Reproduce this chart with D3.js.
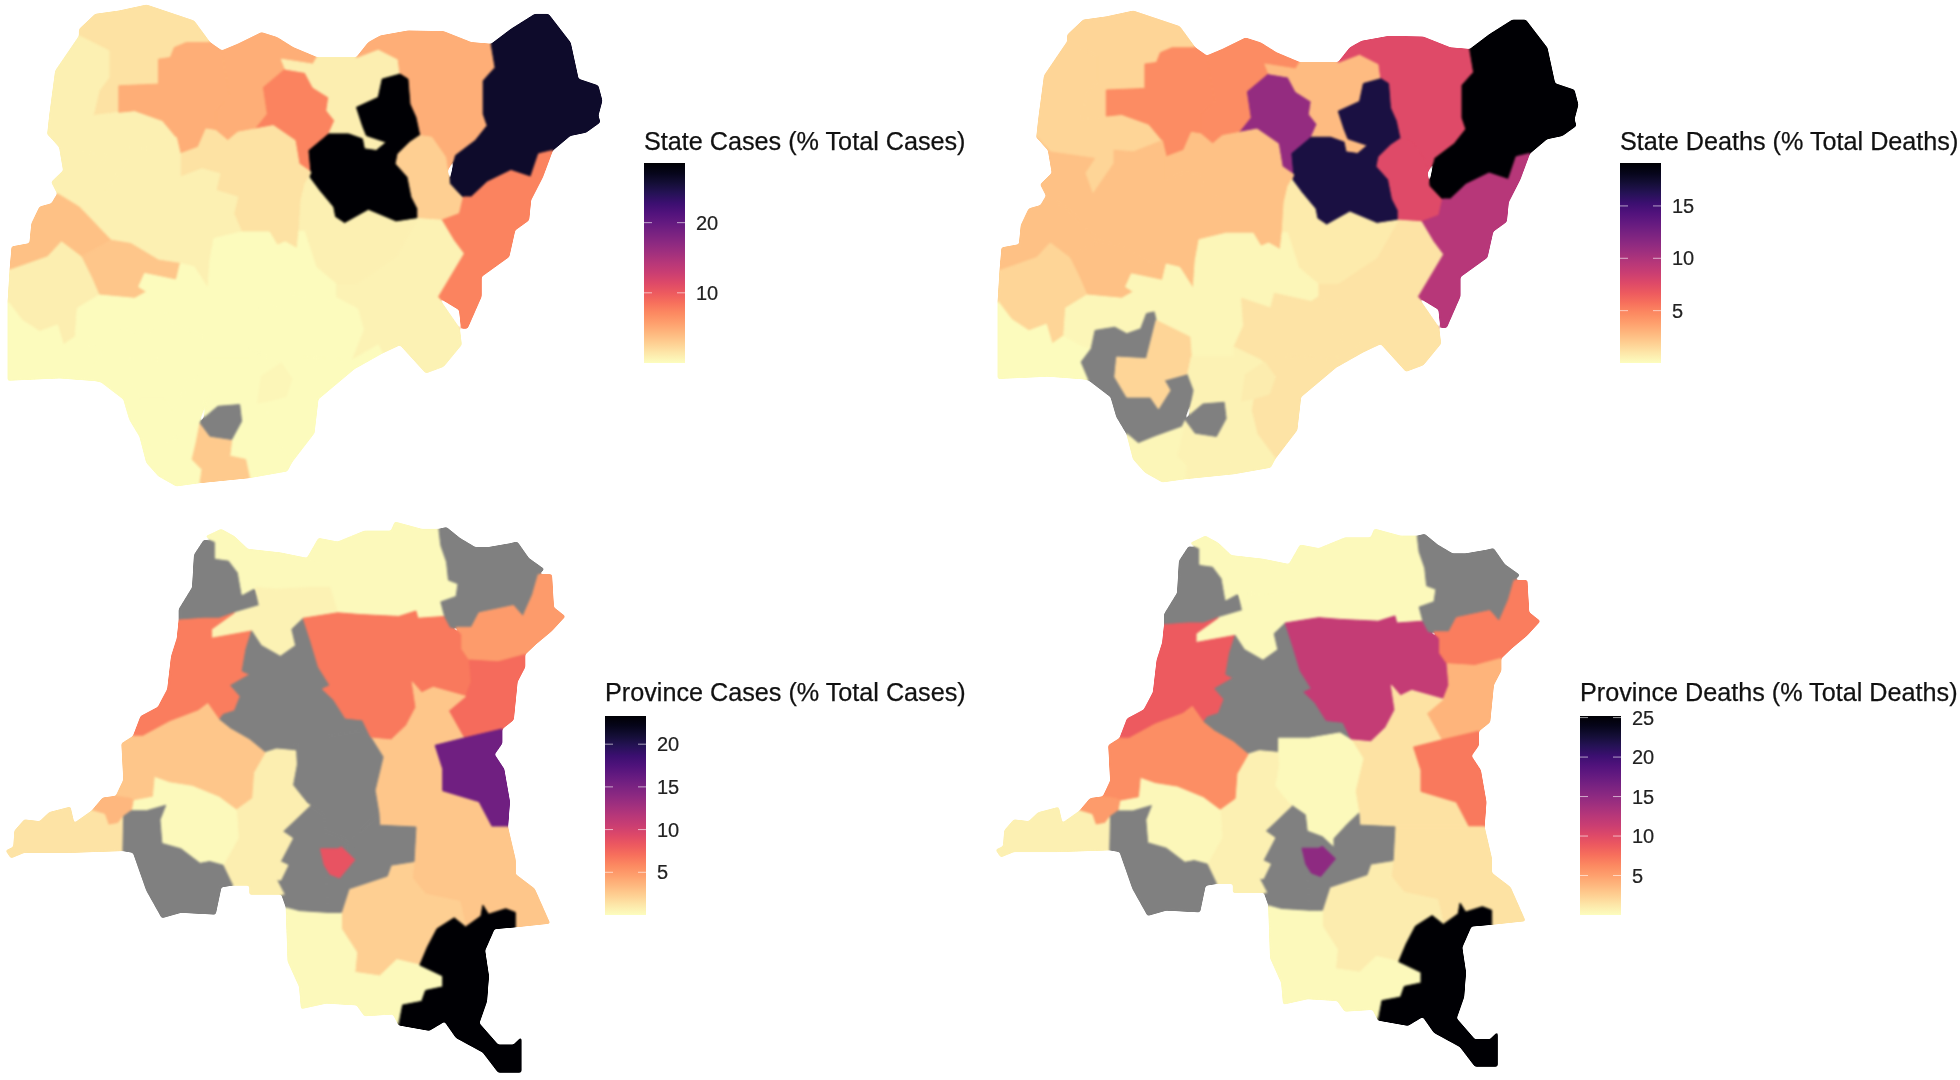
<!DOCTYPE html>
<html><head><meta charset="utf-8">
<script src="https://cdn.jsdelivr.net/npm/d3@7"></script>
<style>html,body{margin:0;background:#fff}svg{display:block;filter:blur(.5px)}</style>
</head><body><svg id="c" width="1960" height="1080"></svg>
<script>
// values (% of national total); null = no data (grey)
const stateNames=["Sokoto","Kebbi","Zamfara","Katsina","Kano","Jigawa","Yobe","Borno","Bauchi","Gombe","Adamawa","Kaduna","Niger","Kwara","Oyo","Ekiti","Ogun","Kogi","Ondo","Edo","Benue","Taraba","Plateau","CrossRiver","Enugu","Ebonyi","Rivers","Imo","Anambra"];
const stateCases=[1.7,0.85,4.8,4.8,7.4,1.0,4.8,26.2,28.5,2.8,7.4,1.7,0.8,3.7,3.4,1.0,0.2,0.2,0.2,0.2,0.2,0.7,0.8,0.2,0.2,0.5,0.2,3.2,null];
const stateDeaths=[1.7,1.7,4.6,4.6,11.1,2.7,7.6,19.1,16.8,7.6,9.5,2.5,2.5,2.5,2.5,1.7,0.1,0.3,null,1.7,1.1,1.1,0.8,1.1,0.5,0.7,0.3,0.5,null];
const provNames=["Sud-Ubangi","Nord-Ubangi","Bas-Uele","Mongala","Equateur","Tshuapa","Tshopo","Haut-Uele","Ituri","Nord-Kivu","Maniema","Sud-Kivu","Tanganyika","Haut-Lomami","Lualaba","Haut-Katanga","Sankuru","Lomami","Kasai-Central","Kasai-Oriental","Kasai","Kwilu","Mai-Ndombe","Kinshasa","Kongo-Central","Kwango"];
const provCases=[null,0.2,0.2,0.6,6.3,null,6.5,null,4.9,7.2,2.8,15.6,2.8,2.3,0.2,23.3,null,null,null,8.6,0.8,0.2,2.8,3.5,1.3,null];
const provDeaths=[null,0.2,0.2,0.2,8.8,null,11.8,null,6.8,4.0,1.5,7.0,1.5,0.9,0.2,25.2,0.2,null,null,15.0,0.75,0.3,6.0,5.3,0.75,null];

// region outlines in map units
const stateShapes=[
[[200,85],[240,40],[300,30],[370,12],[440,40],[490,60],[530,125],[470,125],[440,140],[430,170],[400,175],[400,250],[300,255],[300,335],[235,345],[250,270],[275,230],[275,150],[200,105]],
[[200,105],[275,150],[275,230],[250,270],[235,345],[300,335],[340,330],[410,360],[445,410],[370,445],[320,440],[320,480],[265,575],[245,510],[270,465],[155,445],[120,400],[125,345],[140,210]],
[[545,330],[545,390],[520,385],[500,440],[455,460],[445,410],[410,360],[340,330],[300,335],[300,255],[400,250],[400,175],[430,170],[440,140],[470,125],[530,125],[560,150],[580,290]],
[[560,150],[600,130],[660,95],[700,110],[740,140],[800,170],[790,190],[710,175],[720,205],[665,260],[675,340],[645,385],[600,395],[575,420],[545,390],[545,330],[580,290]],
[[720,205],[770,215],[790,260],[830,290],[825,330],[845,360],[830,400],[780,450],[785,515],[755,490],[745,420],[690,375],[645,385],[675,340],[665,260]],
[[710,175],[790,190],[800,170],[900,170],[955,145],[1005,175],[1010,220],[965,235],[955,290],[900,320],[915,375],[925,405],[975,425],[950,450],[920,445],[915,415],[880,400],[830,400],[845,360],[825,330],[830,290],[790,260],[770,215],[720,205]],
[[900,170],[930,125],[960,105],[1030,90],[1120,92],[1190,125],[1240,130],[1250,200],[1220,240],[1220,340],[1230,375],[1200,420],[1150,465],[1130,510],[1125,470],[1090,410],[1060,405],[1050,350],[1035,310],[1030,235],[1010,220],[1005,175],[955,145]],
[[1240,130],[1290,85],[1350,40],[1385,40],[1440,125],[1460,235],[1510,255],[1520,300],[1510,345],[1515,365],[1480,395],[1440,405],[1395,450],[1360,460],[1340,530],[1290,510],[1230,545],[1190,590],[1170,590],[1135,550],[1150,465],[1200,420],[1230,375],[1220,340],[1220,240],[1250,200]],
[[1010,220],[1030,235],[1035,310],[1050,350],[1060,405],[1035,425],[1005,460],[1000,490],[1030,530],[1040,590],[1055,625],[1055,655],[1000,665],[930,630],[870,670],[845,650],[840,620],[805,570],[780,530],[785,515],[780,450],[830,400],[880,400],[915,415],[920,445],[950,450],[975,425],[925,405],[915,375],[900,320],[955,290],[965,235]],
[[1060,405],[1090,410],[1125,470],[1130,510],[1135,550],[1170,595],[1160,640],[1115,660],[1055,655],[1055,625],[1040,590],[1030,530],[1000,490],[1005,460],[1035,425]],
[[1360,460],[1395,450],[1370,530],[1340,600],[1335,660],[1300,690],[1285,770],[1215,830],[1215,890],[1180,985],[1165,985],[1160,930],[1105,890],[1170,760],[1145,720],[1115,660],[1160,640],[1170,590],[1190,590],[1230,545],[1290,510],[1340,530]],
[[455,460],[500,440],[520,385],[545,390],[575,420],[600,395],[645,385],[690,375],[745,420],[755,490],[785,515],[780,530],[770,550],[760,600],[755,690],[750,745],[720,725],[700,735],[680,695],[610,695],[590,640],[600,590],[545,570],[555,520],[510,505],[455,530]],
[[120,400],[155,445],[270,465],[245,510],[265,575],[320,480],[320,440],[370,445],[445,410],[455,460],[455,530],[510,505],[555,520],[545,570],[600,590],[590,640],[610,695],[540,715],[530,780],[525,865],[490,800],[455,790],[400,780],[330,730],[280,720],[200,620],[145,580],[130,545],[160,510],[150,440]],
[[145,580],[200,620],[280,720],[205,770],[180,745],[155,725],[120,770],[25,810],[30,740],[75,730],[80,670],[100,620],[130,610]],
[[205,770],[280,720],[330,730],[400,780],[455,790],[445,840],[365,820],[350,860],[370,875],[340,895],[250,885],[230,830]],
[[25,810],[120,770],[155,725],[205,770],[230,830],[250,885],[195,925],[190,1010],[160,1035],[145,975],[100,995],[55,960],[20,905]],
[[20,905],[55,960],[100,995],[145,975],[160,1035],[190,1010],[235,1040],[261,1050],[235,1091],[255,1147],[240,1143],[150,1135],[20,1142]],
[[195,925],[250,885],[340,895],[370,875],[350,860],[365,820],[445,840],[455,790],[490,800],[525,865],[530,780],[540,715],[610,695],[680,695],[700,735],[720,725],[750,745],[755,690],[770,690],[800,800],[850,850],[850,890],[830,905],[735,880],[725,925],[650,895],[655,980],[630,1045],[630,1075],[520,1075],[516,1014],[429,963],[424,938],[404,942],[389,989],[353,1004],[322,984],[271,994],[261,1050],[235,1040],[190,1010]],
[[424,937],[429,963],[404,1081],[327,1076],[322,1137],[353,1199],[414,1199],[435,1235],[465,1178],[450,1147],[511,1127],[527,1178],[496,1291],[424,1322],[383,1342],[353,1312],[327,1260],[312,1199],[255,1147],[235,1091],[261,1050],[271,994],[322,984],[353,1004],[389,989],[404,942]],
[[327,1076],[404,1081],[429,963],[516,1014],[520,1075],[511,1127],[450,1147],[465,1178],[435,1235],[414,1199],[353,1199],[322,1137]],
[[650,895],[725,925],[735,880],[830,905],[850,890],[905,925],[920,990],[890,1080],[770,1070],[700,1085],[630,1045],[655,980]],
[[1000,770],[1055,655],[1115,660],[1145,720],[1170,760],[1105,890],[1160,985],[1165,1035],[1120,1100],[1075,1120],[1010,1035],[965,1060],[955,1035],[890,1080],[920,990],[905,925],[850,890],[850,850],[900,850]],
[[770,550],[780,530],[805,570],[840,620],[845,650],[870,670],[930,630],[1000,665],[1055,655],[1000,770],[900,850],[850,850],[800,800],[770,690],[755,690],[760,600]],
[[742,1071],[890,1080],[955,1035],[965,1060],[895,1107],[803,1199],[793,1301],[737,1388],[690,1312],[675,1240],[680,1204],[737,1137],[700,1085]],
[[520,1075],[630,1075],[630,1045],[700,1085],[737,1137],[680,1204],[675,1240],[690,1312],[737,1388],[725,1415],[630,1435],[620,1380],[580,1370],[585,1320],[610,1265],[605,1215],[550,1220],[515,1255],[527,1178],[511,1127]],
[[660,1130],[710,1090],[737,1137],[722,1190],[680,1204],[650,1210]],
[[353,1312],[383,1342],[424,1322],[496,1291],[505,1270],[495,1330],[485,1380],[510,1410],[505,1450],[445,1460],[400,1430],[370,1390]],
[[505,1270],[530,1310],[585,1320],[580,1370],[620,1380],[630,1435],[505,1450],[510,1410],[485,1380],[495,1330]],
[[515,1255],[550,1220],[605,1215],[610,1265],[585,1320],[530,1310],[505,1270]]
];
const provShapes=[
[[530,80],[560,85],[560,130],[595,135],[620,170],[630,230],[660,215],[675,260],[610,280],[570,295],[530,295],[465,300],[465,270],[500,210],[505,120]],
[[535,70],[575,50],[610,70],[645,105],[730,115],[800,130],[880,150],[860,210],[810,210],[720,215],[665,210],[630,230],[620,170],[595,135],[560,130],[560,85]],
[[800,130],[830,75],[880,85],[950,55],[1020,55],[1030,30],[1100,50],[1145,50],[1150,95],[1165,140],[1170,190],[1195,200],[1190,235],[1150,250],[1160,290],[1090,295],[1085,275],[1040,290],[940,285],[880,280],[860,210],[880,150]],
[[665,210],[720,215],[810,210],[860,210],[880,280],[790,295],[760,325],[770,370],[730,400],[680,370],[655,330],[550,350],[550,325],[610,280],[675,260]],
[[465,300],[530,295],[570,295],[610,280],[550,325],[550,350],[655,330],[640,380],[630,440],[650,450],[600,480],[625,510],[610,550],[580,560],[570,575],[540,530],[515,550],[440,580],[370,620],[345,620],[365,565],[410,540],[435,490],[445,400],[460,350]],
[[760,325],[790,295],[810,360],[830,430],[860,480],[840,490],[870,520],[900,570],[945,575],[968,625],[937,605],[854,620],[772,620],[770,660],[720,655],[690,665],[650,630],[600,600],[570,575],[580,560],[610,550],[625,510],[600,480],[650,450],[630,440],[640,380],[655,330],[680,370],[730,400],[770,370]],
[[790,295],[880,280],[940,285],[1040,290],[1085,275],[1090,295],[1160,290],[1175,320],[1205,340],[1205,380],[1225,410],[1230,470],[1215,510],[1130,485],[1100,500],[1075,470],[1085,540],[1060,590],[1020,630],[968,625],[945,575],[900,570],[870,520],[840,490],[860,480],[830,430],[810,360]],
[[1145,50],[1165,45],[1200,75],[1240,100],[1275,100],[1330,90],[1350,85],[1380,130],[1420,160],[1405,175],[1390,230],[1365,290],[1340,260],[1250,280],[1230,320],[1190,320],[1175,320],[1160,290],[1150,250],[1190,235],[1195,200],[1170,190],[1165,140],[1150,95]],
[[1405,175],[1440,175],[1445,265],[1475,290],[1440,330],[1400,365],[1370,395],[1300,415],[1225,410],[1205,380],[1205,340],[1190,320],[1230,320],[1250,280],[1340,260],[1365,290],[1390,230]],
[[1225,410],[1300,415],[1370,395],[1370,430],[1350,470],[1340,575],[1310,600],[1210,625],[1170,550],[1215,510],[1230,470]],
[[1075,470],[1100,500],[1130,485],[1215,510],[1170,550],[1210,625],[1135,645],[1155,710],[1155,770],[1250,800],[1285,870],[1085,870],[990,865],[988,831],[978,769],[999,677],[968,625],[1020,630],[1060,590],[1085,540]],
[[1135,645],[1210,625],[1310,600],[1310,640],[1290,670],[1315,710],[1330,800],[1325,870],[1285,870],[1250,800],[1155,770],[1155,710]],
[[1085,870],[1285,870],[1325,870],[1345,960],[1345,1000],[1395,1040],[1435,1135],[1345,1145],[1345,1105],[1320,1095],[1275,1110],[1260,1085],[1255,1115],[1215,1145],[1200,1075],[1110,1055],[1075,1010],[1080,965]],
[[1075,1010],[1110,1055],[1200,1075],[1215,1145],[1185,1120],[1140,1150],[1115,1200],[1095,1250],[1035,1235],[990,1280],[925,1270],[930,1215],[890,1150],[890,1105],[910,1040],[1010,1005],[1020,975],[1080,965]],
[[745,1090],[780,1100],[890,1105],[890,1150],[930,1215],[925,1270],[990,1280],[1035,1235],[1095,1250],[1155,1280],[1155,1310],[1110,1320],[1100,1350],[1050,1360],[1040,1415],[1025,1385],[950,1390],[930,1360],[850,1355],[785,1370],[780,1310],[750,1240]],
[[1260,1085],[1275,1110],[1320,1095],[1345,1105],[1345,1145],[1290,1150],[1265,1210],[1275,1280],[1270,1350],[1250,1410],[1300,1470],[1340,1470],[1360,1450],[1360,1545],[1300,1545],[1260,1490],[1190,1450],[1160,1405],[1120,1430],[1040,1415],[1050,1360],[1100,1350],[1110,1320],[1155,1310],[1155,1280],[1095,1250],[1115,1200],[1140,1150],[1185,1120],[1215,1145],[1255,1115]],
[[772,620],[854,620],[937,605],[968,625],[999,677],[978,769],[988,831],[957,862],[921,903],[921,928],[890,898],[849,882],[844,836],[808,810],[762,754],[772,698]],
[[957,862],[988,831],[990,865],[1085,870],[1080,965],[1020,975],[1010,1005],[910,1040],[890,1105],[855,1105],[850,1000],[860,1000],[885,1010],[925,960],[890,925],[921,928],[921,903]],
[[808,810],[844,836],[849,882],[890,898],[921,928],[890,925],[880,930],[835,930],[845,975],[860,1000],[850,1000],[855,1105],[780,1100],[745,1090],[720,1015],[731,1016],[750,975],[730,965],[762,901],[736,882]],
[[835,930],[880,930],[890,925],[925,960],[885,1010],[860,1000],[845,975]],
[[690,665],[720,655],[770,660],[772,698],[762,754],[800,805],[808,810],[736,882],[762,901],[730,965],[750,975],[731,1016],[720,1015],[740,1055],[650,1055],[650,1030],[605,1030],[580,975],[620,900],[615,820],[655,790],[660,720]],
[[400,730],[440,745],[500,755],[570,785],[615,820],[620,900],[580,975],[545,965],[520,970],[470,930],[420,915],[415,850],[430,810],[380,825],[340,825],[345,795],[395,785]],
[[345,620],[370,620],[440,580],[515,550],[540,530],[570,575],[600,600],[650,630],[690,665],[660,720],[655,790],[615,820],[570,785],[500,755],[440,745],[400,730],[395,785],[345,795],[335,790],[300,785],[320,740],[315,640]],
[[265,790],[300,785],[335,790],[345,795],[340,825],[320,840],[305,860],[280,865],[270,835],[237,825]],
[[35,880],[60,850],[100,855],[125,830],[180,815],[190,860],[237,825],[270,835],[280,865],[305,860],[320,840],[318,935],[180,940],[60,940],[25,955],[12,935],[32,925]],
[[320,840],[340,825],[380,825],[430,810],[415,850],[420,915],[470,930],[520,970],[545,965],[580,975],[605,1030],[575,1035],[560,1110],[470,1105],[420,1120],[380,1045],[345,940],[318,935]]
];

const legends=[
 {title:"State Cases (% Total Cases)",vals:stateCases,shapes:stateShapes,max:28.5,ticks:[10,20],lx:644,ty:150,
  dx:[20,1520],dy:[12,1460],rx:[8,602],ry:[5,486]},
 {title:"State Deaths (% Total Deaths)",vals:stateDeaths,shapes:stateShapes,max:19.1,ticks:[5,10,15],lx:1620,ty:150,
  dx:[20,1520],dy:[12,1460],rx:[998,1578],ry:[11,482]},
 {title:"Province Cases (% Total Cases)",vals:provCases,shapes:provShapes,max:23.3,ticks:[5,10,15,20],lx:605,ty:701,
  dx:[12,1475],dy:[30,1550],rx:[6,565],ry:[522,1074]},
 {title:"Province Deaths (% Total Deaths)",vals:provDeaths,shapes:provShapes,max:25.2,ticks:[5,10,15,20,25],lx:1580,ty:701,
  dx:[12,1475],dy:[30,1550],rx:[996,1540],ry:[529,1068]}
];
legends[0].by=legends[1].by=[163,363]; legends[2].by=legends[3].by=[716,915];
const svg=d3.select("#c");
const defs=svg.append("defs");
// softens polygon corners the way the rounded coastlines look in the reference
const soft=defs.append("filter").attr("id","soft").attr("color-interpolation-filters","sRGB")
  .attr("x","-2%").attr("y","-2%").attr("width","104%").attr("height","104%");
soft.append("feGaussianBlur").attr("stdDeviation",1.2);
soft.append("feComponentTransfer").append("feFuncA").attr("type","linear").attr("slope",4).attr("intercept",-1.5);
legends.forEach((p,i)=>{
  const color=d3.scaleSequential(t=>d3.interpolateMagma(1-t)).domain([0,p.max]);
  const fill=v=>v==null?"#808080":color(v);
  const sx=d3.scaleLinear().domain(p.dx).range(p.rx), sy=d3.scaleLinear().domain(p.dy).range(p.ry);
  const path=d3.geoPath(d3.geoTransform({point(x,y){this.stream.point(sx(x),sy(y));}}));
  const feats=p.shapes.map((s,k)=>({type:"Feature",properties:{v:p.vals[k]},geometry:{type:"Polygon",coordinates:[[...s,s[0]]]}}));
  const g=svg.append("g").attr("filter","url(#soft)");
  g.selectAll("path").data(feats).join("path").attr("d",path)
    .attr("fill",d=>fill(d.properties.v)).attr("stroke",d=>fill(d.properties.v)).attr("stroke-width",1).attr("stroke-linejoin","round");
  // colour bar
  const id="grad"+i;
  const grad=defs.append("linearGradient").attr("id",id).attr("x1",0).attr("x2",0).attr("y1",1).attr("y2",0);
  d3.range(0,1.001,.05).forEach(t=>grad.append("stop").attr("offset",t).attr("stop-color",color(t*p.max)));
  const w=41, y=d3.scaleLinear().domain([0,p.max]).range([p.by[1],p.by[0]]);
  svg.append("rect").attr("x",p.lx).attr("y",p.by[0]).attr("width",w).attr("height",p.by[1]-p.by[0]).attr("fill",`url(#${id})`);
  const leg=svg.append("g");
  p.ticks.forEach(t=>{
    leg.append("line").attr("x1",p.lx).attr("x2",p.lx+8).attr("y1",y(t)).attr("y2",y(t)).attr("stroke","#fff").attr("stroke-opacity",.6);
    leg.append("line").attr("x1",p.lx+w-8).attr("x2",p.lx+w).attr("y1",y(t)).attr("y2",y(t)).attr("stroke","#fff").attr("stroke-opacity",.6);
    leg.append("text").attr("x",p.lx+w+11).attr("y",y(t)).attr("dy","0.36em").attr("font-family","Liberation Sans").attr("font-size",20).attr("fill","#222").attr("stroke","#222").attr("stroke-width",.2).text(t);
  });
  svg.append("text").attr("x",p.lx).attr("y",p.ty).attr("font-family","Liberation Sans").attr("font-size",25.2).attr("fill","#111").attr("stroke","#111").attr("stroke-width",.25).text(p.title);
});
</script></body></html>
